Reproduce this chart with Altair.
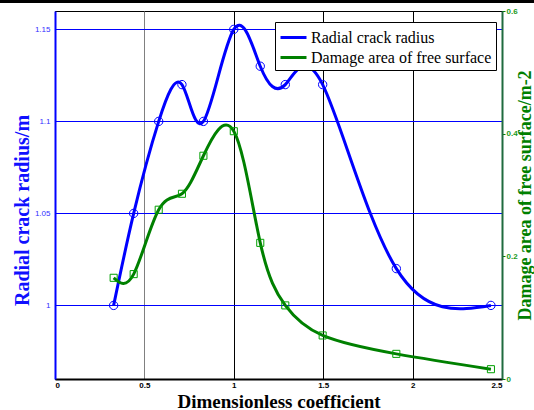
import altair as alt
import pandas as pd

# Sample positions (dimensionless coefficient)
coef = [0.328, 0.44, 0.58, 0.71, 0.83, 1.0, 1.148, 1.288, 1.497, 1.909, 2.438]
# Radial crack radius (m)
radius = [1.0, 1.05, 1.1, 1.12, 1.1, 1.15, 1.13, 1.12, 1.12, 1.02, 1.0]
# Damage area of free surface (m^-2)
damage = [0.165, 0.171, 0.276, 0.302, 0.364, 0.404, 0.222, 0.12, 0.071, 0.041, 0.016]

x_ticks = [0, 0.5, 1, 1.5, 2, 2.5]
left_ticks = [1, 1.05, 1.1, 1.15]
right_ticks = [0, 0.2, 0.4, 0.6]

s_radius = "Radial crack radius"
s_damage = "Damage area of free surface"

BLUE = "#0000ff"
GREEN = "#008000"

df_r = pd.DataFrame({"x": coef, "v": radius, "series": s_radius})
df_d = pd.DataFrame({"x": coef, "v": damage, "series": s_damage})

x_enc = alt.X(
    "x:Q",
    scale=alt.Scale(domain=[0, 2.5], nice=False, zero=False),
    axis=alt.Axis(
        values=x_ticks, format="~g", title="Dimensionless coefficient",
        labelFont="Liberation Sans", labelFontSize=8, labelFontWeight="bold",
        labelColor="black", labelPadding=2, ticks=False,
        domainColor="black", domainWidth=2,
        grid=True, gridWidth=1,
        gridColor={"condition": {"test": "datum.value == 0.5", "value": "#808080"},
                   "value": "black"},
        titleFont="Liberation Serif", titleFontSize=19, titleFontWeight="bold",
        titleColor="black", titleBaseline="alphabetic", titleY=28,
    ),
)

color_scale = alt.Scale(domain=[s_radius, s_damage], range=[BLUE, GREEN])
# long horizontal stroke swatch, wider than the row height
legend = alt.Legend(
    title=None, orient="none", legendX=220, legendY=11,
    symbolType="M-1.3,0L1.3,0", symbolSize=400, symbolStrokeWidth=3,
    symbolOffset=3,
    labelFont="Liberation Serif", labelFontSize=16, labelColor="black",
    strokeColor="black", fillColor="white", padding=4, rowPadding=0,
    labelOffset=6, labelLimit=300,
)

y_left = alt.Y(
    "v:Q",
    scale=alt.Scale(domain=[0.96, 1.16], nice=False, zero=False),
    axis=alt.Axis(
        values=left_ticks, format="~g", title="Radial crack radius/m",
        labelFont="Liberation Sans", labelFontSize=8, labelColor="#3030ff",
        labelPadding=5, ticks=False,
        domainColor=BLUE, domainWidth=2,
        grid=True, gridColor=BLUE, gridWidth=1,
        titleFont="Liberation Serif", titleFontSize=20, titleFontWeight="bold",
        titleColor="#1010ff", titleAngle=270, titleBaseline="middle",
        titleAlign="center", titleX=-33, titleY=199,
    ),
)

y_right = alt.Y(
    "v:Q",
    scale=alt.Scale(domain=[0, 0.6], nice=False, zero=False),
    axis=alt.Axis(
        orient="right", values=right_ticks, format="~g",
        title="Damage area of free surface/m-2",
        labelFont="Liberation Sans", labelFontSize=8, labelFontWeight="bold",
        labelColor="#1a9a1a", labelPadding=1, ticks=True, tickSize=3,
        tickColor=GREEN, domainColor="#1f6b3f", domainWidth=2, grid=False,
        titleFont="Liberation Serif", titleFontSize=18, titleFontWeight="bold",
        titleColor=GREEN, titleAngle=270, titleBaseline="middle",
        titleAlign="center", titleX=23, titleY=184,
    ),
)

radius_line = alt.Chart(df_r).mark_line(
    interpolate="natural", strokeWidth=3, clip=True
).encode(x=x_enc, y=y_left,
         color=alt.Color("series:N", scale=color_scale, legend=legend))
radius_pts = alt.Chart(df_r).mark_point(
    shape="circle", filled=False, size=70, strokeWidth=1, color=BLUE, opacity=1
).encode(x=x_enc, y=y_left)

damage_line = alt.Chart(df_d).mark_line(
    interpolate="natural", strokeWidth=3, clip=True
).encode(x=x_enc, y=y_right,
         color=alt.Color("series:N", scale=color_scale, legend=legend))
damage_pts = alt.Chart(df_d).mark_point(
    shape="square", filled=False, size=50, strokeWidth=1, color="#00a000", opacity=1
).encode(x=x_enc, y=y_right)

# dark frame edge along the top of the figure
top_edge = alt.Chart(df_r).mark_rule(color="black", strokeWidth=3).encode(
    x=alt.value(-55), x2=alt.value(479), y=alt.value(-10)
)

left = alt.layer(radius_line, radius_pts)
right = alt.layer(damage_line, damage_pts)

chart = alt.layer(left, right, top_edge).resolve_scale(y="independent").properties(
    width=447, height=368,
    padding={"left": 55, "top": 11, "right": 32, "bottom": 31},
    autosize=alt.AutoSizeParams(type="none"),
    background="white",
).configure_view(stroke="black", strokeWidth=1)

chart.save("out.html", embed_options={"renderer": "svg", "actions": False})
